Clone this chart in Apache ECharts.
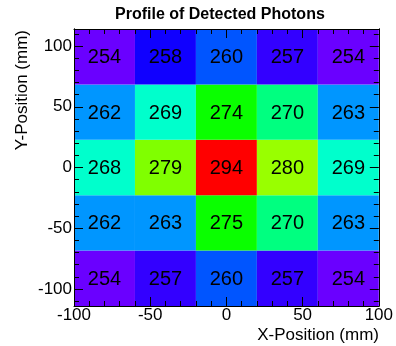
<!DOCTYPE html>
<html>
<head>
<meta charset="utf-8">
<script src="https://cdn.jsdelivr.net/npm/echarts@6/dist/echarts.min.js"></script>
<style>
  html, body { margin: 0; padding: 0; background: #fff; }
  #chart { width: 396px; height: 346px; }
</style>
</head>
<body>
<div id="chart"></div>
<script>
// Bin edges of the 5x5 detector grid (mm)
const xEdges = [-100, -60, -20, 20, 60, 100];
const yEdges = [-114, -68.4, -22.8, 22.8, 68.4, 114];

// Detected photon counts, bottom row first, left to right
const countsRow1 = [254, 257, 260, 257, 254];
const countsRow2 = [262, 263, 275, 270, 263];
const countsRow3 = [268, 279, 294, 280, 269];
const countsRow4 = [262, 269, 274, 270, 263];
const countsRow5 = [254, 258, 260, 257, 254];
const countRows = [countsRow1, countsRow2, countsRow3, countsRow4, countsRow5];

// Tick positions
const majorTicks = [-100, -50, 0, 50, 100];
const yMinorTicks = [-110, -90, -80, -70, -60, -40, -30, -20, -10, 10, 20, 30, 40, 60, 70, 80, 90, 110];

const titleText = 'Profile of Detected Photons';
const xName = 'X-Position (mm)';
const yName = 'Y-Position (mm)';

// Each cell: [xLow, xHigh, yLow, yHigh, count]
const cells = [];
countRows.forEach((row, j) => {
  row.forEach((v, i) => {
    cells.push([xEdges[i], xEdges[i + 1], yEdges[j], yEdges[j + 1], v]);
  });
});

const FONT = '"Liberation Sans", Arial, sans-serif';
const black = '#000';

const baseLine = { show: true, onZero: false, lineStyle: { color: black, width: 1 } };

function xAxisDef(pos, labels) {
  return {
    type: 'value', position: pos, min: -100, max: 100, interval: 50, z: 10,
    axisLine: baseLine,
    splitLine: { show: false },
    axisTick: { show: true, inside: true, length: 9, lineStyle: { color: black } },
    minorTick: { show: true, splitNumber: 5, length: 5, lineStyle: { color: black } },
    axisLabel: labels
      ? { show: true, margin: 1, color: black, fontSize: 17, fontFamily: FONT, showMinLabel: true, showMaxLabel: true }
      : { show: false }
  };
}

function yAxisDef(pos, ticks, len, labels) {
  return {
    type: 'value', position: pos, min: -114, max: 114, z: 10,
    axisLine: baseLine,
    splitLine: { show: false },
    axisTick: { show: true, inside: true, length: len, customValues: ticks, lineStyle: { color: black } },
    axisLabel: labels
      ? { show: true, margin: 2, color: black, fontSize: 17, fontFamily: FONT, customValues: ticks }
      : { show: false }
  };
}

const chart = echarts.init(document.getElementById('chart'));
chart.setOption({
  animation: false,
  backgroundColor: '#fff',
  title: {
    text: titleText, left: 115, top: 7, padding: 0,
    textStyle: { fontSize: 16, fontWeight: 'bold', color: black, fontFamily: FONT }
  },
  grid: { left: 74, right: 17, top: 29, bottom: 40, containLabel: false },
  xAxis: [xAxisDef('bottom', true), xAxisDef('top', false)],
  yAxis: [
    yAxisDef('left', majorTicks, 9, true),
    yAxisDef('left', yMinorTicks, 5, false),
    yAxisDef('right', majorTicks, 9, false),
    yAxisDef('right', yMinorTicks, 5, false)
  ],
  visualMap: {
    type: 'piecewise', show: false, dimension: 4, seriesIndex: 0,
    pieces: [
      { min: 250, max: 256, color: '#6a00ff' },
      { min: 256, max: 257.5, color: '#3300ff' },
      { min: 257.5, max: 259, color: '#1000ff' },
      { min: 259, max: 261, color: '#0055ff' },
      { min: 261, max: 265, color: '#0096ff' },
      { min: 265, max: 269.5, color: '#00ffcc' },
      { min: 269.5, max: 272, color: '#00ff80' },
      { min: 272, max: 277, color: '#0aff00' },
      { min: 277, max: 279.5, color: '#80ff00' },
      { min: 279.5, max: 285, color: '#99ff00' },
      { min: 285, max: 300, color: '#ff0000' }
    ]
  },
  series: [{
    type: 'custom',
    xAxisIndex: 0, yAxisIndex: 0,
    data: cells,
    encode: { x: [0, 1], y: [2, 3] },
    z: 1,
    renderItem: function (params, api) {
      const p0 = api.coord([api.value(0), api.value(3)]);
      const p1 = api.coord([api.value(1), api.value(2)]);
      const color = api.visual('color');
      return {
        type: 'group',
        children: [
          {
            type: 'rect',
            shape: { x: p0[0], y: p0[1], width: p1[0] - p0[0], height: p1[1] - p0[1] },
            style: { fill: color, stroke: null }
          },
          {
            type: 'text',
            x: (p0[0] + p1[0]) / 2, y: (p0[1] + p1[1]) / 2 + 1,
            style: {
              text: String(api.value(4)), fill: black,
              font: '20px ' + FONT, align: 'center', verticalAlign: 'middle'
            }
          }
        ]
      };
    }
  }],
  graphic: [
    {
      type: 'text', x: 379, y: 335,
      style: { text: xName, fill: black, font: '17px ' + FONT, align: 'right', verticalAlign: 'middle' }
    },
    {
      type: 'text', x: 22, y: 30, rotation: Math.PI / 2,
      style: { text: yName, fill: black, font: '17px ' + FONT, align: 'right', verticalAlign: 'middle' }
    }
  ]
});
</script>
</body>
</html>
